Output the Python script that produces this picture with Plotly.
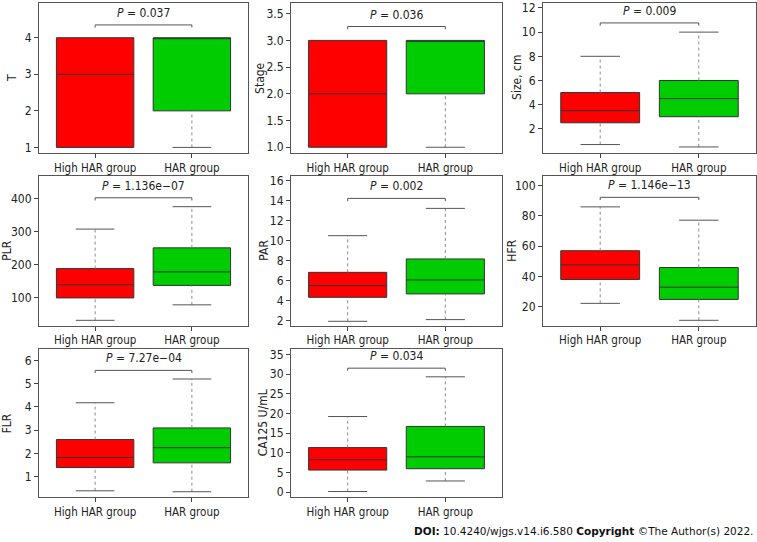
import plotly.graph_objects as go

# group labels and panel titles
GROUPS = ["High HAR group", "HAR group"]
GROUP_POS = [0, 1]
PANELS = ["T", "Stage", "Size, cm", "PLR", "PAR", "HFR", "FLR", "CA125 U/mL"]
P_VALUES = ["0.037", "0.036", "0.009", "1.136e\u221207", "0.002", "1.146e\u221213", "7.27e\u221204", "0.034"]

# box statistics per panel: [High HAR group, HAR group]
LOWER = [[1, 1], [1, 1], [0.7, 0.5], [31, 78], [1.93, 2.1], [22.2, 11], [0.4, 0.36], [0.17, 2.85]]
Q1 = [[1, 2], [1, 2], [2.5, 3], [99, 137], [4.33, 4.67], [38, 24.8], [1.4, 1.6], [5.62, 5.96]]
MEDIAN = [[3, 4], [2, 3], [3.5, 4.5], [139, 178], [5.5, 6.07], [47.6, 32.9], [1.83, 2.25], [8.22, 8.98]]
Q3 = [[4, 4], [3, 3], [5, 6], [188, 251], [6.83, 8.17], [57, 45.9], [2.6, 3.1], [11.33, 16.7]]
UPPER = [[4, 4], [3, 3], [8, 10], [308, 376], [10.5, 13.23], [86, 77.2], [4.18, 5.2], [19.22, 29.3]]

# height of the significance bracket in each panel
BRACKET_Y = [4.35, 3.26, 10.76, 403, 14.23, 92.3, 5.57, 31.5]

# axis setup (layout only)
Y_RANGE = [[0.85, 4.95], [0.895, 3.7], [0.01, 12.41], [15, 470],
           [1.5, 16.5], [7.5, 106.6], [0.12, 6.47], [-1.3, 36.26]]
Y_DTICK = [1, 0.5, 2, 100, 2, 20, 1, 5]
Y_FORMAT = ["", ".1f", "", "", "", "", "", ""]
TITLE_OFFSET = [27, 31, 26, 32, 27, 31, 32, 28]  # px left of the frame

FILLS = ["#FF0000", "#00CD00"]
FONT = "DejaVu Sans Condensed, Liberation Sans, Arial, sans-serif"
TXT = "#222222"
W, H = 757, 542
COLS = [(39, 248), (291, 502), (543, 756)]
ROWS = [(1, 152), (175, 326), (350, 499)]
BOX_W = 0.8
CAP = BOX_W / 4

fig = go.Figure()
layout = {}

for i, name in enumerate(PANELS):
    n = i + 1
    xa = "x" if n == 1 else f"x{n}"
    ya = "y" if n == 1 else f"y{n}"
    r, c = divmod(i, 3)
    (cx0, cx1), (ry0, ry1) = COLS[c], ROWS[r]

    for g, pos in enumerate(GROUP_POS):
        lo, q1, md, q3, up = LOWER[i][g], Q1[i][g], MEDIAN[i][g], Q3[i][g], UPPER[i][g]
        # dotted whiskers
        wx, wy = [], []
        if up > q3:
            wx += [pos, pos, None]
            wy += [q3, up, None]
        if lo < q1:
            wx += [pos, pos, None]
            wy += [lo, q1, None]
        if wx:
            fig.add_trace(go.Scatter(x=wx, y=wy, mode="lines", xaxis=xa, yaxis=ya,
                                     line=dict(color="#8a8a8a", width=1, dash="dot"),
                                     hoverinfo="skip", showlegend=False))
        # whisker caps
        cx, cy = [], []
        if up > q3:
            cx += [pos - CAP, pos + CAP, None]
            cy += [up, up, None]
        if lo < q1:
            cx += [pos - CAP, pos + CAP, None]
            cy += [lo, lo, None]
        if cx:
            fig.add_trace(go.Scatter(x=cx, y=cy, mode="lines", xaxis=xa, yaxis=ya,
                                     line=dict(color="#555555", width=1),
                                     hoverinfo="skip", showlegend=False))
        fig.add_trace(go.Box(
            x=[pos], q1=[q1], median=[md], q3=[q3], lowerfence=[q1], upperfence=[q3],
            width=BOX_W, whiskerwidth=0, fillcolor=FILLS[g],
            line=dict(color="#333333", width=1), boxpoints=False,
            xaxis=xa, yaxis=ya, showlegend=False, name=GROUPS[g]))

    # significance bracket
    b = BRACKET_Y[i]
    d = (Y_RANGE[i][1] - Y_RANGE[i][0]) * 0.018
    fig.add_trace(go.Scatter(x=[GROUP_POS[0], GROUP_POS[0], GROUP_POS[1], GROUP_POS[1]],
                             y=[b - d, b, b, b - d], mode="lines", xaxis=xa, yaxis=ya,
                             line=dict(color="#555555", width=1),
                             hoverinfo="skip", showlegend=False))
    fig.add_annotation(x=sum(GROUP_POS) / 2, y=b, xref=xa, yref=ya, yanchor="bottom", yshift=3,
                       text=f"<i>P</i> = {P_VALUES[i]}", showarrow=False,
                       font=dict(family=FONT, size=12, color=TXT))

    # y title sits at a fixed distance from the frame, as in R
    fig.add_annotation(x=(cx0 - TITLE_OFFSET[i]) / W, y=1 - (ry0 + ry1) / 2 / H,
                       xref="paper", yref="paper", xanchor="center", yanchor="middle",
                       textangle=-90, text=name, showarrow=False,
                       font=dict(family=FONT, size=12, color=TXT))

    layout["xaxis" if n == 1 else f"xaxis{n}"] = dict(
        domain=[cx0 / W, cx1 / W], anchor=ya, range=[-0.58, 1.58],
        tickvals=GROUP_POS, ticktext=GROUPS, ticks="outside", ticklen=4,
        tickcolor="#444444", showline=True, mirror=True, linecolor="#555555",
        linewidth=1, showgrid=False, zeroline=False,
        tickfont=dict(family=FONT, size=11.5, color=TXT))
    layout["yaxis" if n == 1 else f"yaxis{n}"] = dict(
        domain=[1 - ry1 / H, 1 - ry0 / H], anchor=xa, range=Y_RANGE[i],
        dtick=Y_DTICK[i], tick0=0, tickformat=Y_FORMAT[i], ticks="outside", ticklen=4,
        tickcolor="#444444", showline=True, mirror=True, linecolor="#555555",
        linewidth=1, showgrid=False, zeroline=False,
        tickfont=dict(family=FONT, size=12, color=TXT))

fig.add_annotation(x=0.998, y=1 - 533 / H, xref="paper", yref="paper",
                   xanchor="right", yanchor="middle", showarrow=False,
                   text="<b>DOI:</b> 10.4240/wjgs.v14.i6.580 <b>Copyright</b> \u00a9The Author(s) 2022.",
                   font=dict(family="DejaVu Sans, Verdana, sans-serif", size=10.5, color="#111111"))

fig.update_layout(width=W, height=H, margin=dict(l=0, r=0, t=0, b=0),
                  paper_bgcolor="white", plot_bgcolor="white", showlegend=False, **layout)

# drop the default page margin so the figure fills the window
fig.write_html("out.html", config={"displayModeBar": False},
               post_script="document.body.style.margin='0';")
